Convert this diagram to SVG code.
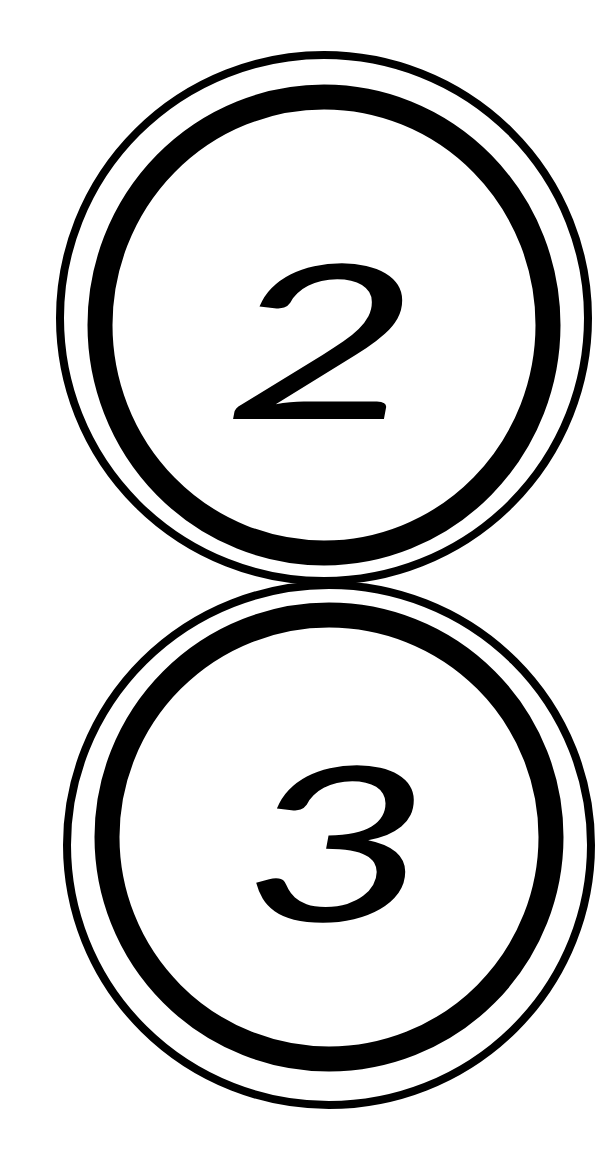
<svg xmlns="http://www.w3.org/2000/svg" width="611" height="1157" viewBox="0 0 611 1157">
<style>
.outer{fill:none;stroke:#000;stroke-width:8}
.inner{fill:none;stroke:#000;stroke-width:25}
.lbl{font-family:Lato,"Liberation Sans",sans-serif;font-weight:400;font-style:italic;font-size:215px;fill:#000;text-anchor:middle}
</style>
<rect width="611" height="1157" fill="#fff"/>
<g id="connectors"/>
<g id="node-2">
<ellipse class="outer" cx="324" cy="318" rx="264" ry="263"/>
<ellipse class="inner" cx="324" cy="325" rx="224" ry="228"/>
<text class="lbl" x="322" y="419" textLength="198" lengthAdjust="spacingAndGlyphs">2</text>
</g>
<g id="node-3">
<ellipse class="outer" cx="329" cy="845" rx="262" ry="260"/>
<ellipse class="inner" cx="329" cy="837" rx="222" ry="222"/>
<text class="lbl" x="337" y="921" textLength="192" lengthAdjust="spacingAndGlyphs">3</text>
</g>
</svg>
